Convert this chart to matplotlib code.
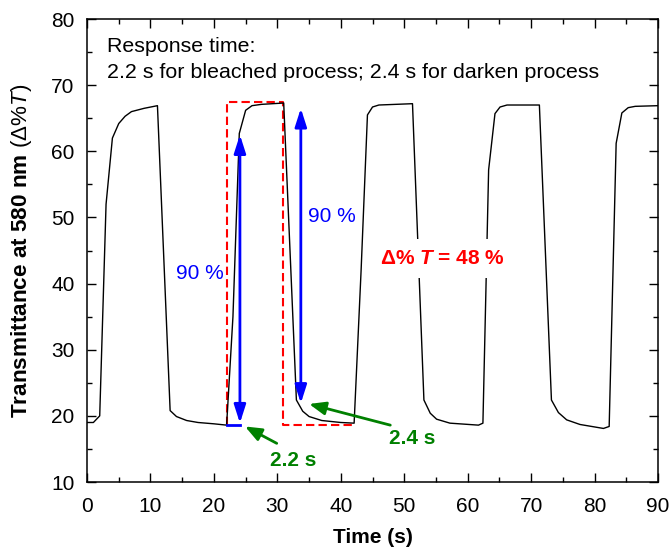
import matplotlib
matplotlib.use("Agg")
import matplotlib.pyplot as plt
from matplotlib.ticker import MultipleLocator

plt.rcParams.update({
    "font.family": ["Liberation Sans", "DejaVu Sans"],
    "font.size": 15,
    "mathtext.fontset": "custom",
    "mathtext.rm": "Liberation Sans",
    "mathtext.it": "Liberation Sans:italic",
    "mathtext.bf": "Liberation Sans:bold",
    "mathtext.bfit": "Liberation Sans:italic:bold",
})

# transmittance trace
time_s = [0, 1, 2, 3, 4, 5, 6, 7, 9, 11.1,
          13.1, 14.1, 15.7, 17.5, 20, 22.0,
          23.0, 24.0, 25.0, 26.0, 27.5, 31.0,
          33.0, 34.0, 35.0, 37.0, 40.0, 42.1,
          43.2, 44.2, 45.0, 46.0, 51.3,
          53.1, 54.1, 55.1, 57.2, 61.7, 62.4,
          63.3, 64.3, 65.1, 66.2, 71.3,
          73.2, 74.3, 75.6, 77.7, 81.4, 82.3,
          83.4, 84.3, 85.3, 86.4, 90]
trans = [19.0, 19.0, 20.0, 52.0, 62.0, 64.2, 65.3, 66.0, 66.5, 66.9,
         20.8, 19.9, 19.3, 19.0, 18.8, 18.6,
         35.0, 62.7, 66.2, 66.9, 67.1, 67.3,
         22.4, 20.7, 19.9, 19.3, 19.0, 18.9,
         42.0, 65.5, 66.7, 67.0, 67.2,
         22.4, 20.4, 19.5, 18.9, 18.6, 18.9,
         57.2, 65.7, 66.7, 67.0, 67.0,
         22.4, 20.5, 19.4, 18.7, 18.1, 18.4,
         61.2, 65.8, 66.6, 66.8, 66.9]

# response-time guide (dashed step outline)
guide_x = [22.1, 22.1, 30.95, 30.95, 42.3]
guide_y = [18.6, 67.5, 67.5, 18.6, 18.6]
bleach_span = [22.1, 24.1]
bleach_arrow = (24.1, 18.9, 62.5)   # x, y_low, y_high
darken_arrow = (33.7, 66.5, 21.9)   # x, y_start, y_end

fig = plt.figure(figsize=(6.72, 5.5), dpi=100)
ax = fig.add_axes([0.1295, 0.1236, 0.8497, 0.8418])

ax.plot(time_s, trans, color="black", lw=1.0, zorder=3)

ax.plot(guide_x, guide_y, color="red", lw=1.5, ls=(0, (4, 2)), zorder=2)
ax.plot(bleach_span, [guide_y[0]] * 2, color="blue", lw=2, zorder=4)

blue_arrow = dict(arrowstyle="<|-|>,head_length=0.5,head_width=0.16",
                  color="blue", lw=2, mutation_scale=22, shrinkA=0, shrinkB=0)
ax.annotate("", xy=(bleach_arrow[0], bleach_arrow[1]),
            xytext=(bleach_arrow[0], bleach_arrow[2]), arrowprops=blue_arrow, zorder=5)
ax.annotate("", xy=(darken_arrow[0], darken_arrow[2]),
            xytext=(darken_arrow[0], darken_arrow[1]), arrowprops=blue_arrow, zorder=5)

ax.text(17.8, 41.6, "90 %", color="blue", ha="center", va="center")
ax.text(38.6, 50.1, "90 %", color="blue", ha="center", va="center")

green_arrow = dict(arrowstyle="-|>,head_length=0.45,head_width=0.18",
                   color="green", lw=2, mutation_scale=22, shrinkA=0, shrinkB=0)
ax.annotate("", xy=(24.9, 18.4), xytext=(29.9, 15.85), arrowprops=green_arrow)
ax.annotate("", xy=(35.0, 21.8), xytext=(47.8, 18.6), arrowprops=green_arrow)
ax.text(32.5, 13.3, "2.2 s", color="green", fontweight="bold", ha="center", va="center")
ax.text(51.2, 16.65, "2.4 s", color="green", fontweight="bold", ha="center", va="center")

ax.text(56.1, 43.8, r"Δ% $\mathbfit{T}$ = 48 %", color="red", fontweight="bold",
        ha="center", va="center", zorder=6,
        bbox=dict(boxstyle="square,pad=0.5", facecolor="white", edgecolor="none"))

ax.text(3.15, 75.8, "Response time:", ha="left", va="center", fontsize=15.4)
ax.text(3.15, 71.9, "2.2 s for bleached process; 2.4 s for darken process",
        ha="left", va="center", fontsize=15.4)

ax.set_xlim(0, 90)
ax.set_ylim(10, 80)
ax.xaxis.set_major_locator(MultipleLocator(10))
ax.xaxis.set_minor_locator(MultipleLocator(5))
ax.yaxis.set_major_locator(MultipleLocator(10))
ax.yaxis.set_minor_locator(MultipleLocator(5))
ax.tick_params(which="both", direction="in", top=True, right=True, width=1.0)
ax.tick_params(which="major", length=6.5)
ax.tick_params(which="minor", length=3.6)
ax.tick_params(axis="y", pad=9)
ax.tick_params(axis="x", pad=11)
for s in ax.spines.values():
    s.set_linewidth(1.1)

ax.set_xlabel("Time (s)", fontweight="bold")
ax.xaxis.label.set_va("center")
ax.xaxis.set_label_coords(0.5, -0.119)
ax.set_ylabel(r"Transmittance at 580 nm $(\Delta\%\mathit{T})$", fontweight="bold",
              fontsize=16.2)
ax.yaxis.label.set_va("center")
ax.yaxis.set_label_coords(-0.114, 0.5)

fig.savefig("out.png", dpi=100)
